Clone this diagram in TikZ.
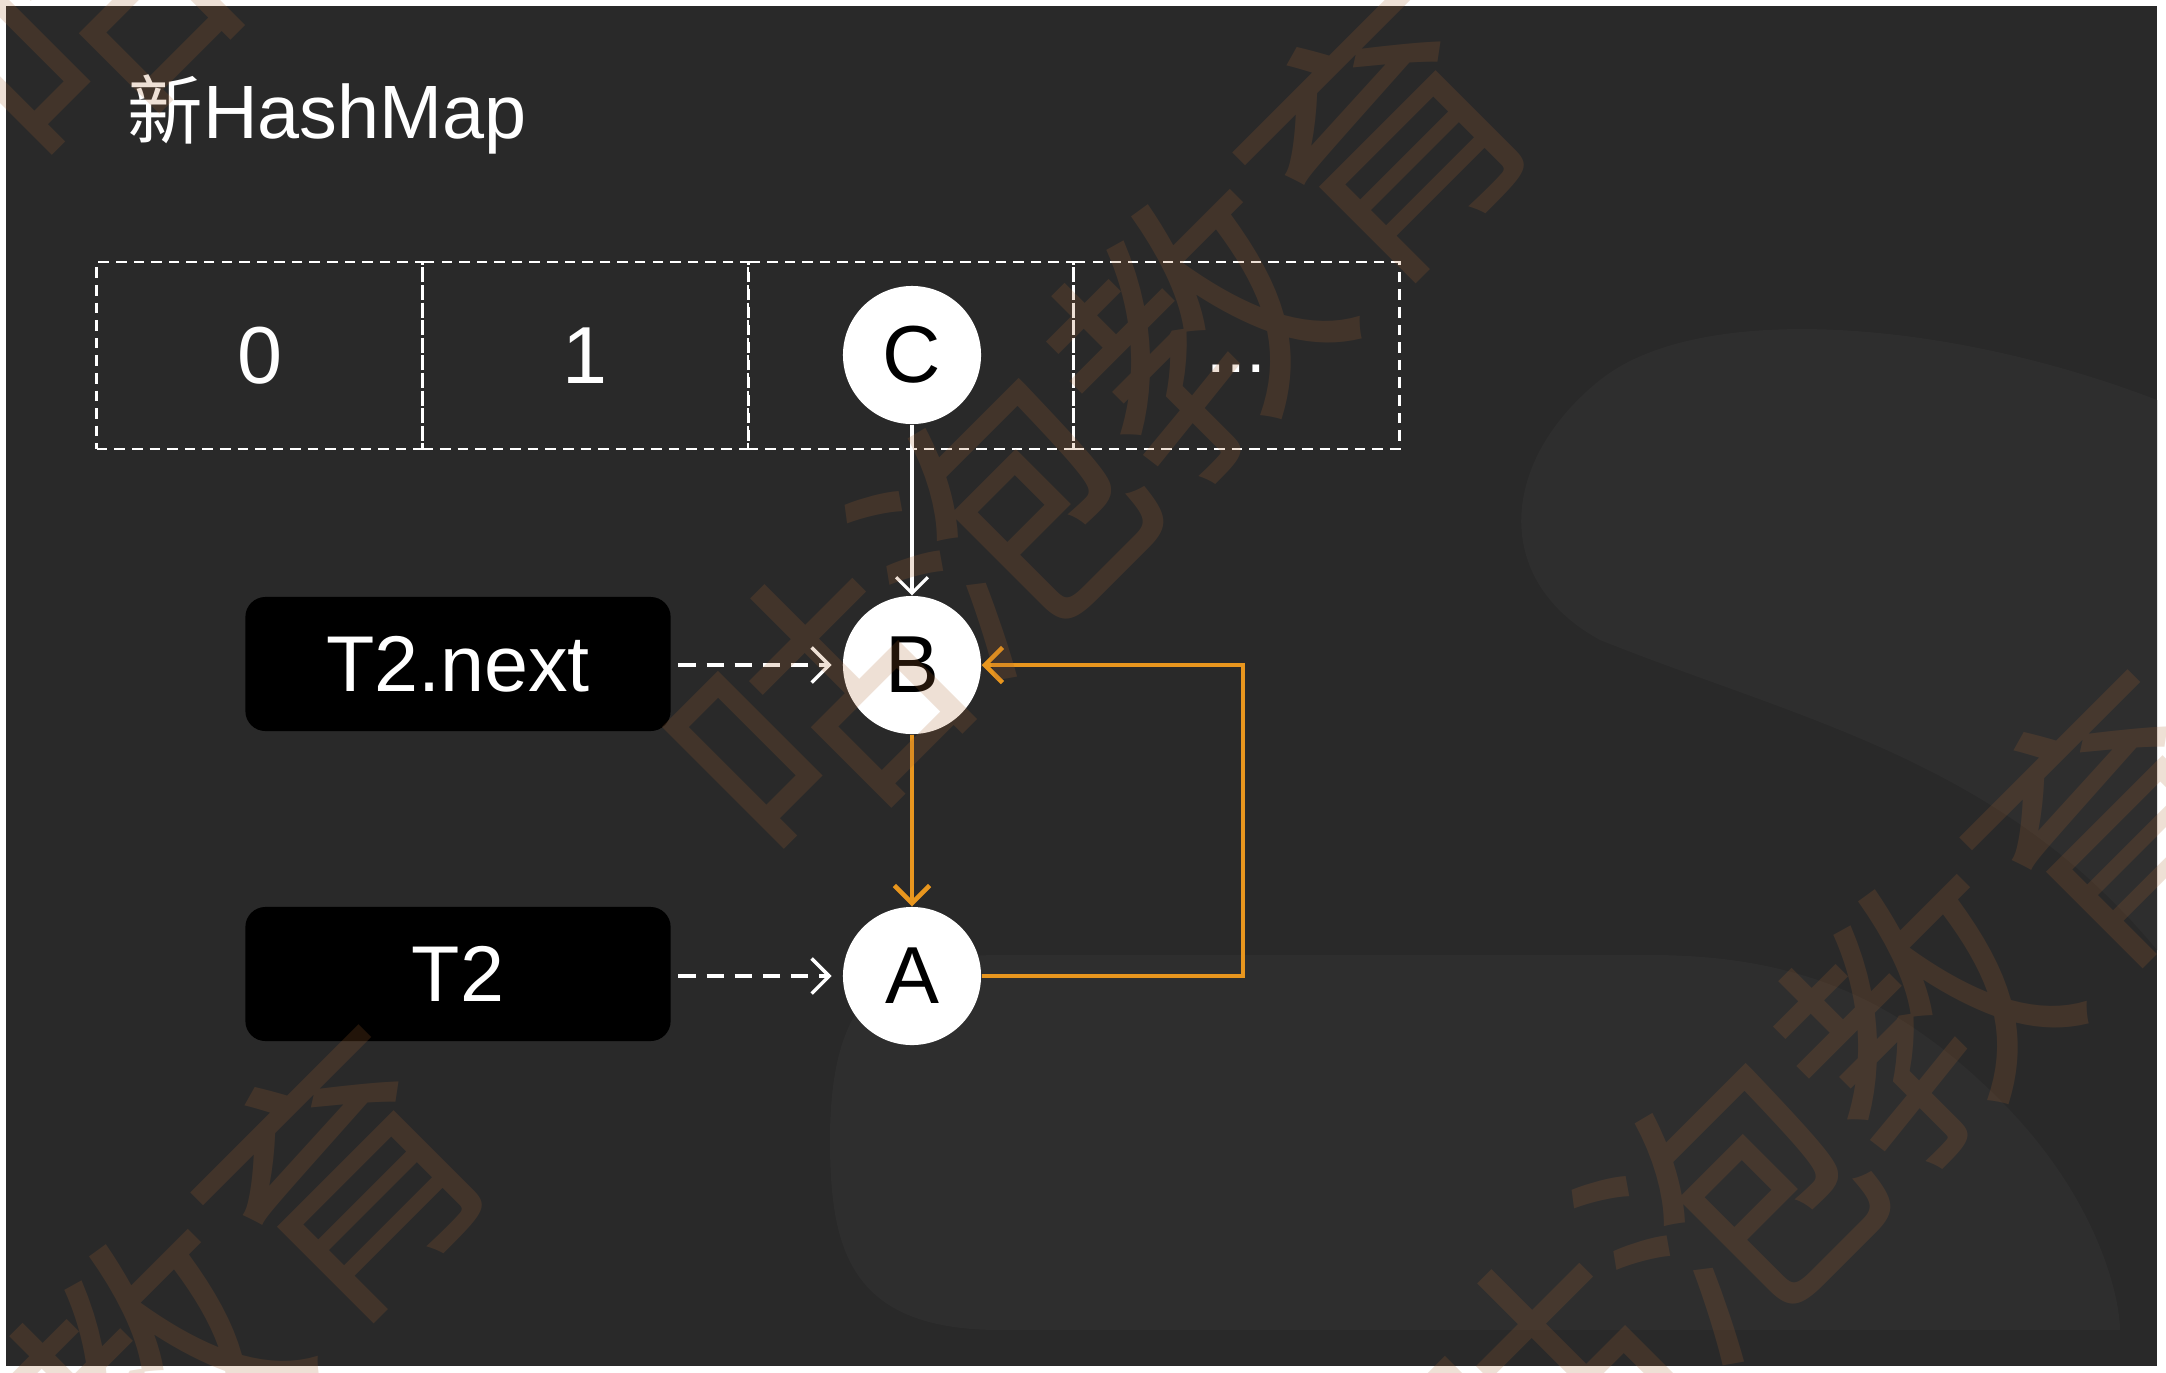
\documentclass[tikz,border=0pt]{standalone}
\usepackage{fontspec}
\setmainfont{Liberation Sans}
\newfontfamily\cjk{Noto Sans CJK SC}
\usetikzlibrary{arrows.meta}
\definecolor{bgdark}{RGB}{41,41,41}
\definecolor{bglight}{RGB}{46,46,46}
\definecolor{orangeline}{RGB}{232,150,30}
\definecolor{wmark}{RGB}{170,100,48}
\begin{document}
\begin{tikzpicture}[x=0.01cm,y=-0.01cm,
  cell/.style={draw=white, dash pattern=on 3pt off 2pt, line width=0.8pt,
    minimum width=3.255cm, minimum height=1.87cm, inner sep=0pt, text=white,
    font=\fontsize{23}{23}\selectfont},
  ball/.style={circle, fill=white, minimum size=1.38cm, inner sep=0pt, text=black,
    font=\fontsize{23}{23}\selectfont},
  tag/.style={rounded corners=0.2cm, fill=black, minimum width=4.25cm, minimum height=1.34cm,
    inner sep=0pt, text=white, font=\fontsize{22.5}{22.5}\selectfont},
  ptr/.style={white, line width=1pt, dash pattern=on 5pt off 3pt,
    -{Straight Barb[length=5pt,width=10pt,line width=1pt]}, shorten <=2pt, shorten >=3pt},
  link/.style={orangeline, line width=1.3pt, -{Straight Barb[length=5pt,width=10pt,line width=1.3pt]}},
  wm/.style={rotate=45, text=wmark, text opacity=0.2, inner sep=0pt,
    font=\cjk\fontsize{77}{77}\selectfont}
]
\useasboundingbox (0,0) rectangle (2166,1372);
\clip (0,0) rectangle (2166,1372);
\fill[white] (0,0) rectangle (2166,1372);
\fill[bgdark] (6,6) rectangle (2157,1366);
% subtle background shapes
\fill[bglight] (2157,400) .. controls (1950,320) and (1700,300) .. (1600,380)
  .. controls (1500,460) and (1490,580) .. (1600,640)
  .. controls (1800,720) and (2000,760) .. (2157,950) -- cycle;
\fill[bglight] (1000,955) -- (1650,955) .. controls (1800,955) and (1900,1000) .. (2000,1100)
  .. controls (2100,1200) and (2120,1300) .. (2120,1330) -- (1000,1330)
  .. controls (850,1330) and (830,1250) .. (830,1140)
  .. controls (830,1000) and (880,955) .. (1000,955) -- cycle;

% title
\node[anchor=base west, inner sep=0pt, text=white, font=\fontsize{21.5}{21.5}\selectfont]
  (title) at (127,138) {{\cjk 新}HashMap};

% array cells
\node[cell] (c0) at (259.75,355.5) {0};
\node[cell] (c1) at (585.25,355.5) {1};
\node[cell] (c2) at (910.75,355.5) {};
\node[cell] (c3) at (1236.25,355.5) {};
\node[text=white, inner sep=0pt, font=\fontsize{20}{20}\selectfont] (dots) at (1236.25,369) {...};

% entries
\node[ball] (C) at (912,355) {C};
\node[ball] (B) at (912,665) {B};
\node[ball] (A) at (912,976) {A};

% pointers
\node[tag] (tn) at (458,664) {T2.next};
\node[tag] (t2) at (458,974) {T2};

\draw[white, line width=0.9pt, -{Straight Barb[length=4.5pt,width=9pt,line width=0.9pt]}] (C) -- (B);
\draw[ptr] (tn.east |- B) -- (B);
\draw[ptr] (t2.east |- A) -- (A);
\draw[link] (B) -- (A);
\coordinate (loopA) at (1243,976);
\coordinate (loopB) at (1243,665);
\draw[link] (A.east) -- (loopA) -- (loopB) -- (B.east);

% watermark
\node[wm] (w1) at (1098,425) {咕泡教育};
\node[wm] (w2) at (1825,1110) {咕泡教育};
\node[wm] (w3) at (56,1465) {咕泡教育};
\node[wm] (w4) at (366,-269) {咕泡教育};
\end{tikzpicture}
\end{document}
